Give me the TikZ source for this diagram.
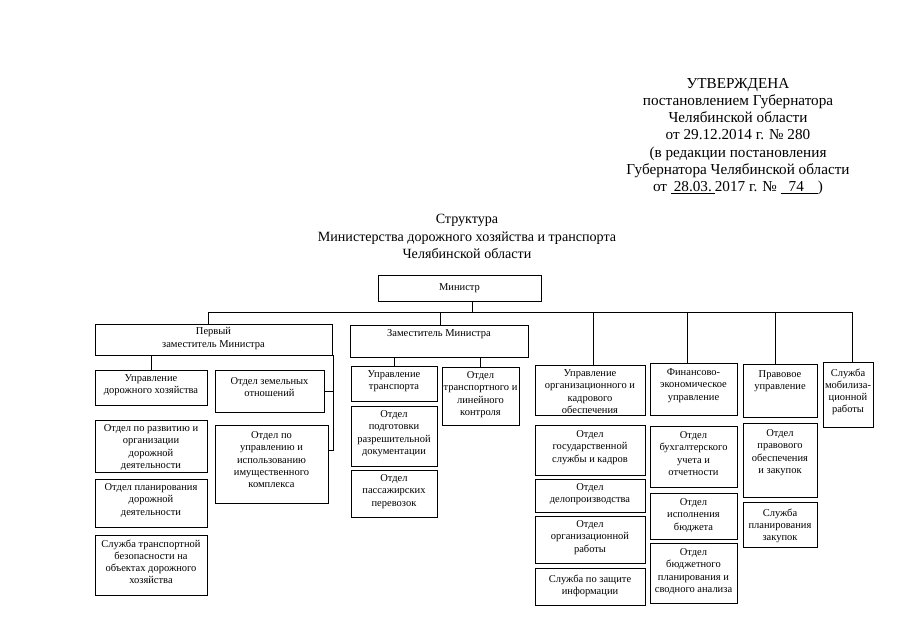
\documentclass[tikz,border=0pt]{standalone}
\usepackage{fontspec}
\setmainfont{Liberation Serif}
\usetikzlibrary{fit}
\newcommand\bx[7][6]{%
  \node[box, fit={(#3,#4) (#5,#6)}] (#2) {};
  \node[txt, anchor=north] (#2t) at ([yshift=-#1pt]#2.north) {#7};}
\begin{document}
\begin{tikzpicture}[x=1pt,y=-1pt,
  box/.style={draw, line width=0.8pt, inner sep=0pt},
  txt/.style={align=center, font=\fontsize{10.5}{12.2}\selectfont, inner sep=0pt},
  hdrtxt/.style={align=center, font=\fontsize{15.2}{17.2}\selectfont, inner sep=0pt},
  ttltxt/.style={align=center, font=\fontsize{14.1}{17.6}\selectfont, inner sep=0pt},
  con/.style={draw, line width=0.8pt}]
\useasboundingbox (0,0) rectangle (905,640);

% header
\node[hdrtxt, anchor=north] (hdr) at (738,78) {УТВЕРЖДЕНА\\постановлением Губернатора\\Челябинской области\\от 29.12.2014 г. № 280\\(в редакции постановления\\Губернатора Челябинской области\\от \underline{\hspace{3pt}28.03.\hspace{3pt}}2017 г. № \underline{\hspace{8pt}74\hspace{14pt}})};
% title
\node[ttltxt, anchor=north] (ttl) at (467,214) {Структура\\Министерства дорожного хозяйства и транспорта\\Челябинской области};

% boxes
\node[box, fit={(378,275) (541,301)}] (min) {};
\node[txt] (mint) at (min.center) {Министр};
\bx[4]{perv}{95}{324}{332}{355}{Первый\\заместитель Министра}
\bx[5]{zam}{350}{325}{528}{357}{Заместитель Министра}
\bx[5]{udh}{95}{370}{207}{405}{Управление\\дорожного хозяйства}
\bx[8]{zem}{215}{370}{324}{412}{Отдел земельных\\отношений}
\bx[5]{razv}{95}{420}{207}{472}{Отдел по развитию и\\организации\\дорожной\\деятельности}
\bx[5]{plan}{95}{479}{207}{527}{Отдел планирования\\дорожной\\деятельности}
\bx[5]{sbez}{95}{535}{207}{595}{Служба транспортной\\безопасности на\\объектах дорожного\\хозяйства}
\bx[7]{oupr}{215}{425}{328}{503}{Отдел по\\управлению и\\использованию\\имущественного\\комплекса}
\bx[5]{utr}{351}{366}{437}{401}{Управление\\транспорта}
\bx[5]{otk}{442}{367}{519}{425}{Отдел\\транспортного и\\линейного\\контроля}
\bx[5]{pod}{351}{406}{437}{466}{Отдел\\подготовки\\разрешительной\\документации}
\bx[5]{pas}{351}{470}{437}{517}{Отдел\\пассажирских\\перевозок}
\bx[5]{uok}{535}{365}{645}{415}{Управление\\организационного и\\кадрового\\обеспечения}
\bx[6]{gos}{535}{425}{645}{475}{Отдел\\государственной\\службы и кадров}
\bx[5]{del}{535}{479}{645}{512}{Отдел\\делопроизводства}
\bx[5]{org}{535}{516}{645}{563}{Отдел\\организационной\\работы}
\bx[7]{zas}{535}{568}{645}{605}{Служба по защите\\информации}
\bx[6]{fin}{650}{363}{737}{415}{Финансово-\\экономическое\\управление}
\bx[6]{buh}{650}{426}{737}{487}{Отдел\\бухгалтерского\\учета и\\отчетности}
\bx[6]{isp}{650}{493}{737}{539}{Отдел\\исполнения\\бюджета}
\bx[6]{bpl}{650}{543}{737}{603}{Отдел\\бюджетного\\планирования и\\сводного анализа}
\bx[7]{prav}{743}{364}{817}{417}{Правовое\\управление}
\bx[7]{ppr}{743}{423}{817}{497}{Отдел\\правового\\обеспечения\\и закупок}
\bx[7]{spz}{743}{502}{817}{547}{Служба\\планирования\\закупок}
\bx[7]{mob}{823}{362}{873}{427}{Служба\\мобилиза-\\ционной\\работы}

% bus coordinates
\coordinate (ms) at (472,312);
\coordinate (b1) at (208,312);
\coordinate (b2) at (440,312);
\coordinate (b3) at (593,312);
\coordinate (b4) at (687,312);
\coordinate (b5) at (775,312);
\coordinate (b6) at (852,312);
\coordinate (pr) at (333,450);

\path[con] (ms |- min.south) -- (ms);
\path[con] (b1 |- perv.north) -- (b1) -- (b6) -- (b6 |- mob.north);
\path[con] (b2) -- (b2 |- zam.north);
\path[con] (b3) -- (b3 |- uok.north);
\path[con] (b4) -- (b4 |- fin.north);
\path[con] (b5) -- (b5 |- prav.north);

\path[con] (udh.north) -- (udh.north |- perv.south);
\path[con] (pr |- perv.south) -- (pr) -- (pr -| oupr.east);
\path[con] (zem.east) -- (zem.east -| pr);

\path[con] (utr.north) -- (utr.north |- zam.south);
\path[con] (otk.north) -- (otk.north |- zam.south);
\end{tikzpicture}
\end{document}
